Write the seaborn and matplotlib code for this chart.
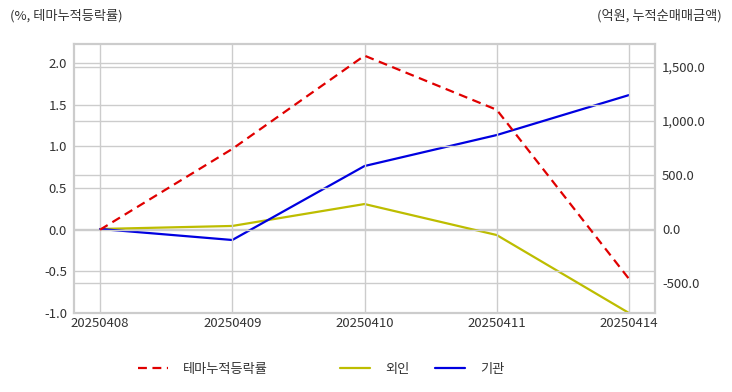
import matplotlib
matplotlib.use("Agg")
import matplotlib.pyplot as plt
import seaborn as sns
import pandas as pd
from matplotlib.ticker import FuncFormatter, FixedLocator

sns.set_style("white")
plt.rcParams['font.family'] = ['Noto Sans CJK KR', 'DejaVu Sans']

# 데이터
dates = ['20250408', '20250409', '20250410', '20250411', '20250414']
theme_rate = [0.0, 0.97, 2.09, 1.44, -0.59]        # 테마누적등락률 (%)
foreign_amt = [0.0, 28.0, 231.0, -56.0, -778.0]     # 외인 (억원)
inst_amt = [0.0, -102.0, 583.0, 870.0, 1240.0]      # 기관 (억원)

df = pd.DataFrame({'pos': range(len(dates)), 'date': dates,
                   'theme': theme_rate, 'foreign': foreign_amt, 'inst': inst_amt})

text_color = '#333333'
grid_color = '#cccccc'
fs = 9.5

fig = plt.figure(figsize=(7.32, 3.92), dpi=100)
ax = fig.add_axes([74/732, 1-313/392, (655-74)/732, (313-44)/392])
ax2 = ax.twinx()

sns.lineplot(data=df, x='pos', y='theme', ax=ax, color='#e00000', linestyle=(0, (4, 2.5)),
             linewidth=1.6, label='테마누적등락률', legend=False)
sns.lineplot(data=df, x='pos', y='foreign', ax=ax2, color='#bdbd00', linewidth=1.6,
             label='외인', legend=False)
sns.lineplot(data=df, x='pos', y='inst', ax=ax2, color='#0000e0', linewidth=1.6,
             label='기관', legend=False)

ax.set_xlim(-0.197, 4.197)
ax.set_ylim(-1.0, 2.23)
ax2.set_ylim(-778, 1713)

ax.yaxis.set_major_locator(FixedLocator([-1.0, -0.5, 0.0, 0.5, 1.0, 1.5, 2.0]))
ax.yaxis.set_major_formatter(FuncFormatter(lambda v, p: f'{v:.1f}'))
ax2.yaxis.set_major_locator(FixedLocator([-500, 0, 500, 1000, 1500]))
ax2.yaxis.set_major_formatter(FuncFormatter(lambda v, p: f'{v:,.1f}'))

ax.set_xticks(range(len(dates)))
ax.set_xticklabels(dates)

ax.grid(True, color=grid_color, linewidth=1)
ax2.grid(True, axis='y', color=grid_color, linewidth=1)
ax.set_axisbelow(True)
ax2.set_axisbelow(True)

for a in (ax, ax2):
    a.set_xlabel('')
    a.set_ylabel('')
    a.tick_params(length=0, labelsize=fs, colors=text_color, pad=5)
    for s in a.spines.values():
        s.set_color(grid_color)
        s.set_linewidth(1.5)
ax.tick_params(axis='x', pad=3)
ax.patch.set_visible(False)
ax2.set_zorder(ax.zorder - 1)
ax.set_zorder(ax2.zorder + 1)

fig.text(10/732, 1-16/392, '(%, 테마누적등락률)', fontsize=fs, color=text_color,
         ha='left', va='center')
fig.text(722/732, 1-16/392, '(억원, 누적순매매금액)', fontsize=fs, color=text_color,
         ha='right', va='center')

h1, l1 = ax.get_legend_handles_labels()
h2, l2 = ax2.get_legend_handles_labels()
handles = h1 + h2
labels = l1 + l2
for h, l, x in zip(handles, labels, [138, 340, 435]):
    fig.legend([h], [l], loc='center left', bbox_to_anchor=(x/732, 1-369/392),
               frameon=False, fontsize=fs, handlelength=2.3, handletextpad=1.1,
               borderpad=0, borderaxespad=0, labelcolor=text_color)

fig.savefig('out.png', dpi=100)
